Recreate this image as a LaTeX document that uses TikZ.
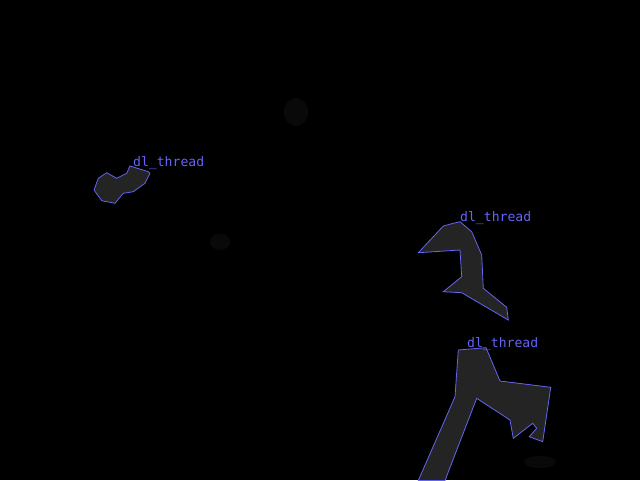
\documentclass[tikz,border=0pt]{standalone}
\usepackage{fontspec}
\setmainfont{DejaVu Sans Mono}
\definecolor{outline}{RGB}{100,100,245}
\definecolor{blobgray}{RGB}{36,36,36}
\definecolor{smudge}{RGB}{9,9,9}

\begin{document}
\begin{tikzpicture}[x=1pt,y=-1pt,
    blob/.style={draw=outline,fill=blobgray,line width=0.8pt,line join=miter},
    tag/.style={anchor=base west,inner sep=0pt,text=outline,font=\fontsize{13.1}{13}\selectfont},
    faint/.style={fill=smudge}]
	\fill[black] (0,0) rectangle (640,480);
	\useasboundingbox (0,0) rectangle (640,480);

	% faint background spots
	\fill[faint] (296,112) ellipse (12 and 14);
	\fill[faint] (220,242) ellipse (10 and 8);
	\fill[faint] (540,462) ellipse (16 and 6);

	% first thread (left)
	\draw[blob] (130,166) -- (148.3,171.7) -- (150,173.3) -- (145,183.3) -- (133.3,191.7)
		-- (123.3,193.3) -- (118.3,199.3) -- (115,203.3) -- (101.7,200.7) -- (94,190)
		-- (98.3,178.3) -- (106.7,172.7) -- (116.7,178.3) -- (126.7,173.3) -- cycle;
	\node[tag] (t1) at (133,166) {dl\_thread};

	% second thread (middle right)
	\draw[blob] (460,221.7) -- (471.7,231.7) -- (481.7,255) -- (483.3,288.3) -- (506.7,307.3)
		-- (508.3,320) -- (461.7,292.7) -- (443.3,291.7) -- (461.7,276.7) -- (460,250)
		-- (418.3,252.7) -- (443.3,226) -- (453.3,223.3) -- cycle;
	\node[tag] (t2) at (460,221) {dl\_thread};

	% third thread (bottom right)
	\draw[blob] (458.3,350) -- (486,347.7) -- (500,381) -- (550.7,387.3) -- (542.7,441.7)
		-- (529.3,436.7) -- (536.7,428.3) -- (532.7,423.3) -- (513.3,438.3) -- (510,420)
		-- (476.7,398.3) -- (445,480.5) -- (418.3,480.5) -- (455,396.7) -- cycle;
	\node[tag] (t3) at (467,347) {dl\_thread};
\end{tikzpicture}
\end{document}
